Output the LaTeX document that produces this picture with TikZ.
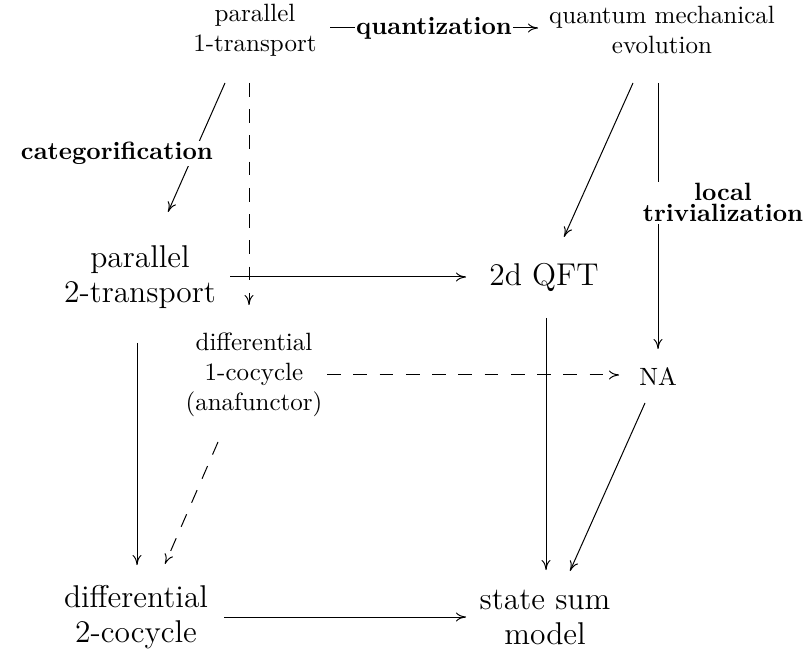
\documentclass[tikz,border=0pt]{standalone}
\usetikzlibrary{arrows.meta}

\tikzset{every picture/.style={line width=0.4pt}}
\tikzset{
  obj/.style={align=center, inner sep=0pt},
  bigobj/.style={obj, font=\fontsize{12.6}{14}\selectfont},
  lbl/.style={font=\bfseries, fill=white, inner sep=0.6pt},
  arr/.style={-{To[length=4pt,width=3.6pt]}},
  darr/.style={arr, dash pattern=on 5.5pt off 5pt},
}

\begin{document}
\begin{tikzpicture}[x=0.4pt,y=0.4pt,yscale=-1,xscale=1]
	\useasboundingbox (0,0) rectangle (811,657);
	
	% Objects
	\node[obj] (p1) at (255,30) {parallel\\1-transport};
	\node[obj] (qm) at (662,30) {quantum mechanical\\evolution};
	\node[bigobj] (p2) at (140,277) {parallel\\2-transport};
	\node[bigobj] (qft) at (544,277) {2d QFT};
	\node[obj] (d1) at (254,375) {differential\\1-cocycle\\(anafunctor)};
	\node[obj] (na) at (658,377) {NA};
	\node[bigobj] (d2) at (136,617) {differential\\2-cocycle};
	\node[bigobj] (ss) at (545,617) {state sum\\model};
	
	% Top row
	\draw[arr] ([shift={(75,-2)}]p1.center) -- node[lbl] {quantization} ([shift={(-124,-2)}]qm.center);
	\draw[arr] ([shift={(-30,53)}]p1.center) -- node[lbl, pos=0.546, anchor=east, xshift=8.4pt] {categorification} ([shift={(28,-65)}]p2.center);
	\draw[darr] ([shift={(-6,53)}]p1.center) -- ([shift={(-5,-70)}]d1.center);
	\draw[arr] ([shift={(-29,53)}]qm.center) -- ([shift={(20,-40)}]qft.center);
	\draw[arr] ([shift={(-4,53)}]qm.center) -- node[lbl, align=center, pos=0.45, xshift=26pt] {local\\[-3.5pt]trivialization} ([shift={(0,-28)}]na.center);
	
	% Middle
	\draw[arr] ([shift={(90,0)}]p2.center) -- ([shift={(-78,0)}]qft.center);
	\draw[darr] ([shift={(73,0)}]d1.center) -- ([shift={(-39,-2)}]na.center);
	\draw[darr] ([shift={(-36,67)}]d1.center) -- ([shift={(29,-53)}]d2.center);
	
	% Down to bottom row
	\draw[arr] ([shift={(-3,66)}]p2.center) -- ([shift={(1,-52)}]d2.center);
	\draw[arr] ([shift={(2,41)}]qft.center) -- ([shift={(1,-47)}]ss.center);
	\draw[arr] ([shift={(-13,26)}]na.center) -- ([shift={(25,-46)}]ss.center);
	\draw[arr] ([shift={(88,0)}]d2.center) -- ([shift={(-79,0)}]ss.center);
	
\end{tikzpicture}
\end{document}
